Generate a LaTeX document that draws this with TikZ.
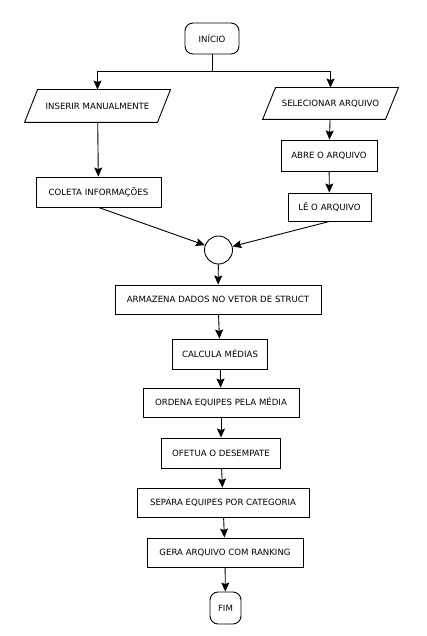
\documentclass[tikz,border=0pt]{standalone}
\usepackage{fontspec}
\setmainfont{DejaVu Sans}
\usetikzlibrary{arrows.meta,calc}

\begin{document}
\begin{tikzpicture}[
  x=1pt, y=-1pt, line width=0.9pt,
  >={Stealth[length=9pt,width=8pt,inset=1.5pt]},
  every node/.style={font=\fontsize{8.6}{10}\selectfont, inner sep=0pt},
  terminal/.style={draw, rounded corners=8pt, minimum height=31pt},
  proc/.style={draw, minimum height=29pt},
  io/.style={minimum height=31pt},
  junction/.style={circle, draw, minimum size=28pt},
  flow/.style={->},
]
  \useasboundingbox (0,0) rectangle (426,636);
  % Start and the two input paths
  \node[terminal, minimum width=54pt] (inicio) at (212,38.5) {INÍCIO};
  \coordinate (split) at (212,71);
  \node[io, minimum width=132pt, minimum height=32pt] (inserir) at (97.5,106) {INSERIR MANUALMENTE};
  \node[io, minimum width=122pt] (selecionar) at (330.5,103.5) {SELECIONAR ARQUIVO};
  \foreach \n in {inserir,selecionar}
    \draw ($(\n.south west)+(-6.5,0)$) -- ($(\n.north west)+(6.5,0)$)
      -- ($(\n.north east)+(6.5,0)$) -- ($(\n.south east)+(-6.5,0)$) -- cycle;
  \node[proc, minimum width=125pt, minimum height=30pt] (coleta) at (98.5,192) {COLETA INFORMAÇÕES};
  \node[proc, minimum width=96pt, minimum height=31pt] (abre) at (329,155.5) {ABRE O ARQUIVO};
  \node[proc, minimum width=83pt, minimum height=28pt] (le) at (329.5,207) {LÊ O ARQUIVO};
  \node[junction] (juncao) at (218.5,250) {};
  % Main sequence
  \node[proc, minimum width=206pt] (armazena) at (218,299.5) {ARMAZENA DADOS NO VETOR DE STRUCT};
  \node[proc, minimum width=95pt, minimum height=30pt] (calcula) at (220,354) {CALCULA MÉDIAS};
  \node[proc, minimum width=156pt] (ordena) at (221,402.5) {ORDENA EQUIPES PELA MÉDIA};
  \node[proc, minimum width=119pt, minimum height=30pt] (ofetua) at (221,453) {OFETUA O DESEMPATE};
  \node[proc, minimum width=172pt] (separa) at (223,502.5) {SEPARA EQUIPES POR CATEGORIA};
  \node[proc, minimum width=156pt] (gera) at (225,552.5) {GERA ARQUIVO COM RANKING};
  \node[terminal, minimum width=31pt, minimum height=32pt] (fim) at (225.5,608) {FIM};
  % Connectors
  \draw (inicio) -- (split);
  \draw[flow] (split) -| (inserir);
  \draw[flow] (split) -| (selecionar);
  \draw[flow] (inserir) -- (coleta);
  \draw[flow] (selecionar) -- (abre);
  \draw[flow] (abre) -- (le);
  \draw[flow] (coleta.south) -- (juncao);
  \draw[flow] (le.south) -- (juncao);
  \draw[flow] (juncao) -- (armazena);
  \draw[flow] (armazena) -- (calcula);
  \draw[flow] (calcula) -- (ordena);
  \draw[flow] (ordena) -- (ofetua);
  \draw[flow] (ofetua) -- (separa);
  \draw[flow] (separa) -- (gera);
  \draw[flow] (gera) -- (fim);
\end{tikzpicture}
\end{document}
